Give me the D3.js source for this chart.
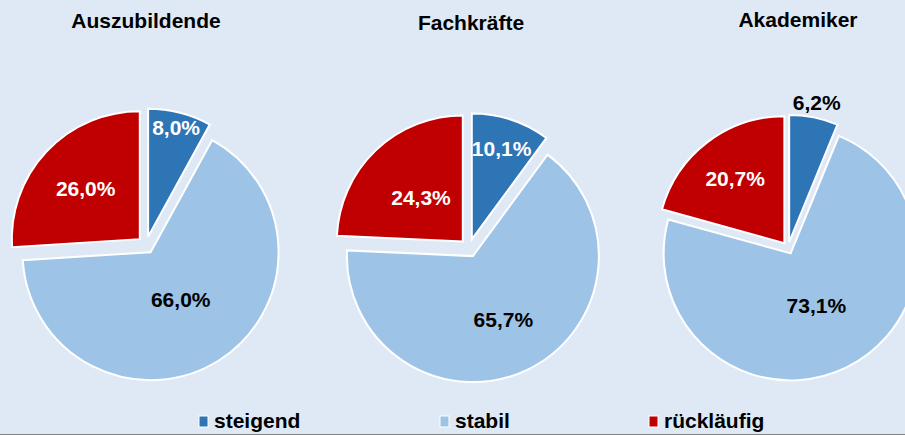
<!DOCTYPE html>
<html>
<head>
<meta charset="utf-8">
<script src="https://cdn.jsdelivr.net/npm/d3@7"></script>
<style>
  body { margin: 0; background: #dee9f5; }
  svg { display: block; font-family: "Liberation Sans", Arial, sans-serif; font-weight: bold; }
</style>
</head>
<body>
<div id="chart"></div>
<script>
// Data
const categories = ["steigend", "stabil", "rückläufig"];
const groups = ["Auszubildende", "Fachkräfte", "Akademiker"];
const auszubildende = [8.0, 66.0, 26.0];
const fachkraefte = [10.1, 65.7, 24.3];
const akademiker = [6.2, 73.1, 20.7];
const colors = ["#2e75b6", "#9dc3e6", "#c00000"];

const seriesValues = [auszubildende, fachkraefte, akademiker];

// Layout for each pie (center, radius, explosion, title baseline, label radius factors)
const layout = [
    { cx: 146, cy: 245, r: 128, explode: 8.5, titleX: 146, titleY: 28, labelFrac: [0.88, 0.44, 0.58] },
    { cx: 469, cy: 248, r: 126, explode: 9, titleX: 471, titleY: 30, labelFrac: [0.76, 0.56, 0.48] },
    { cx: 788, cy: 248, r: 127, explode: 6, titleX: 798, titleY: 27, labelFrac: [1.12, 0.46, 0.64] }
];

const width = 905;
const height = 435;

const svg = d3.select("#chart").append("svg")
    .attr("width", width)
    .attr("height", height);

svg.append("rect")
    .attr("width", width)
    .attr("height", height)
    .attr("fill", "#dee9f5");

const color = d3.scaleOrdinal().domain(categories).range(colors);
const fmt = v => d3.format(".1f")(v).replace(".", ",") + "%";

const pie = d3.pie().sort(null).value(d => d.value);

seriesValues.forEach((values, gi) => {
    const L = layout[gi];
    const data = categories.map((c, i) => ({ cat: c, value: values[i], idx: i }));
    const arcs = pie(data);
    const arc = d3.arc().innerRadius(0).outerRadius(L.r);

    const g = svg.append("g").attr("transform", `translate(${L.cx},${L.cy})`);

    arcs.forEach(a => {
        const mid = (a.startAngle + a.endAngle) / 2;
        const dx = Math.sin(mid) * L.explode;
        const dy = -Math.cos(mid) * L.explode;
        const sg = g.append("g").attr("transform", `translate(${dx},${dy})`);

        sg.append("path")
            .attr("d", arc(a))
            .attr("fill", color(a.data.cat))
            .attr("stroke", "#ffffff")
            .attr("stroke-width", 2)
            .attr("stroke-linejoin", "miter");

        const lr = L.r * L.labelFrac[a.index];
        const inside = L.labelFrac[a.index] < 1;
        sg.append("text")
            .attr("x", Math.sin(mid) * lr)
            .attr("y", -Math.cos(mid) * lr)
            .attr("dy", "0.36em")
            .attr("text-anchor", "middle")
            .attr("font-size", 21)
            .attr("fill", inside && a.data.cat !== "stabil" ? "#ffffff" : "#000000")
            .text(fmt(a.data.value));
    });

    // Title
    svg.append("text")
        .attr("x", L.titleX)
        .attr("y", L.titleY)
        .attr("text-anchor", "middle")
        .attr("font-size", 21)
        .attr("fill", "#000000")
        .text(groups[gi]);
});

// Legend
const legendX = [199, 440, 649];
const legend = svg.append("g").attr("class", "legend");
categories.forEach((c, i) => {
    legend.append("rect")
        .attr("x", legendX[i])
        .attr("y", 416)
        .attr("width", 9)
        .attr("height", 11)
        .attr("fill", color(c))
        .attr("stroke", "#ffffff")
        .attr("stroke-width", 1);
    legend.append("text")
        .attr("x", legendX[i] + 15)
        .attr("y", 428)
        .attr("font-size", 21)
        .attr("fill", "#000000")
        .text(c);
});

// Bottom border
svg.append("line")
    .attr("x1", 0)
    .attr("x2", width)
    .attr("y1", 434.5)
    .attr("y2", 434.5)
    .attr("stroke", "#808080")
    .attr("stroke-width", 1);
</script>
</body>
</html>
